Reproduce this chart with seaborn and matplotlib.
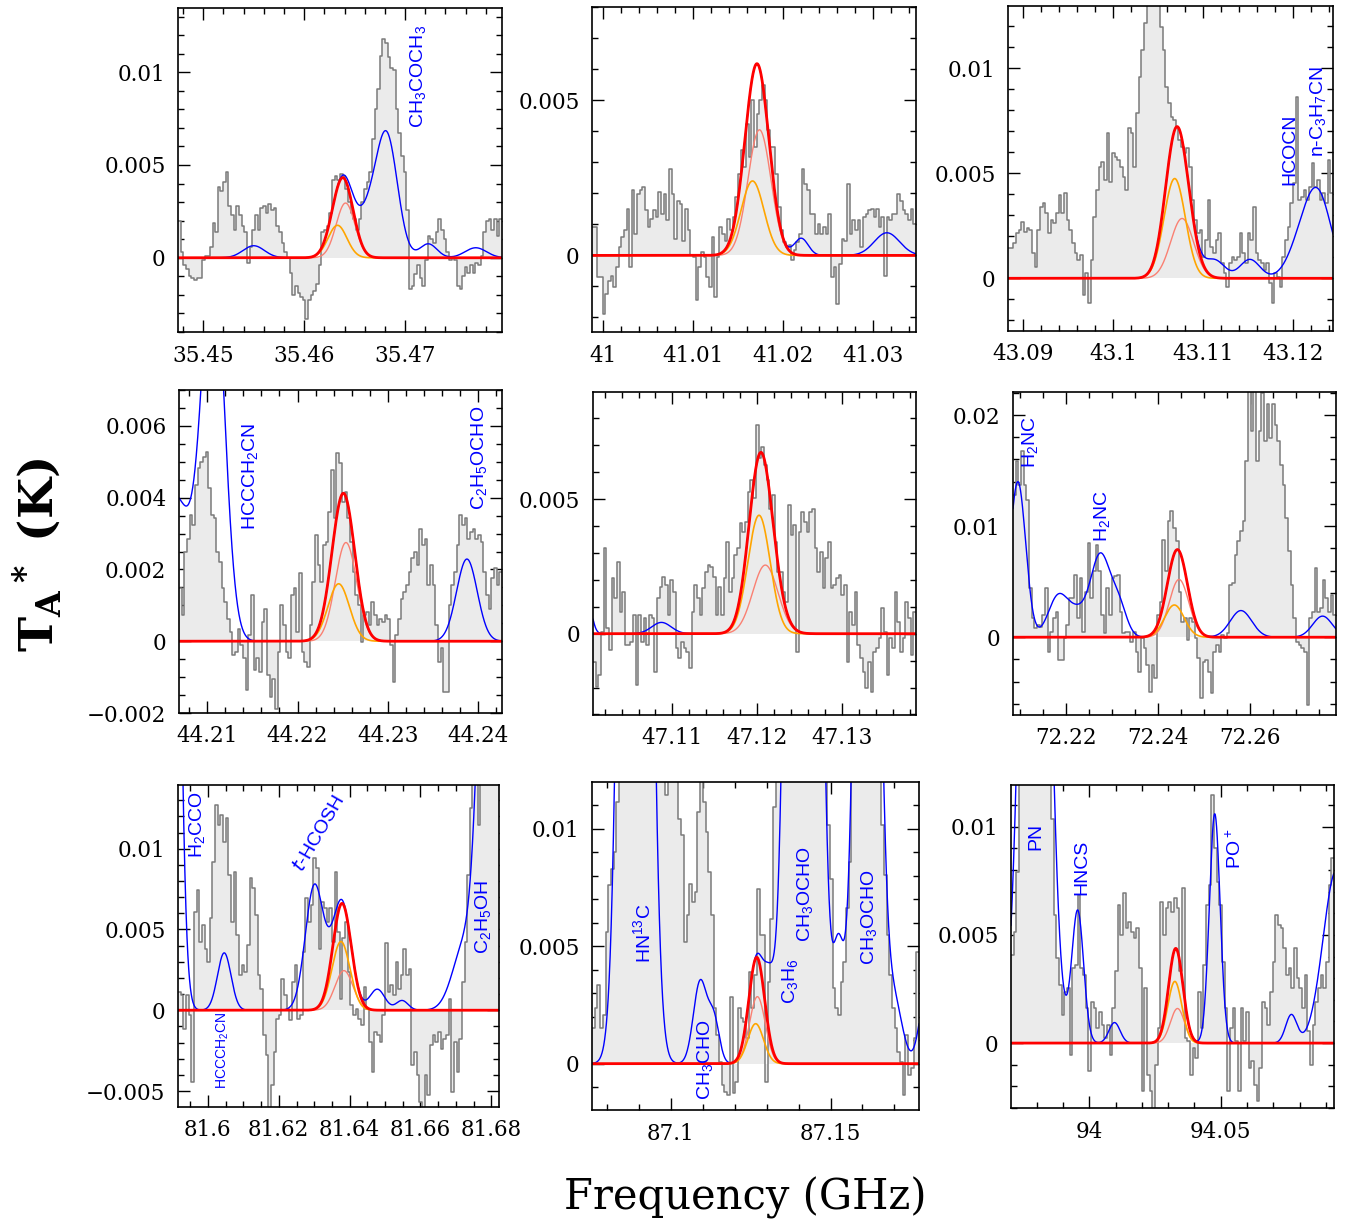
import numpy as np
import seaborn as sns
import matplotlib
matplotlib.use("Agg")
import matplotlib.pyplot as plt
from matplotlib.ticker import MultipleLocator, FuncFormatter

# --- spectra (mK), channels spread evenly over each plotted window (GHz) ---
p1_range = (35.4475, 35.4796)
p1_spec = [2.0, 0.3, -0.4, -0.6, -1.0, -1.1, -1.2, -1.1, -1.1, -0.1, 0.1, 0.1, 0.6, 1.9, 1.4, 3.8, 3.6, 4.1, 4.6, 2.8,
           2.3, 1.5, 2.8, 2.3, 1.7, 1.4, -0.3, 0.6, 1.5, 2.3, 1.5, 2.7, 2.8, 2.4, 2.9, 2.6, 2.7, 1.7, 1.4, 0.8,
           0.3, 0.0, -0.8, -2.0, -1.5, -1.9, -2.1, -2.3, -3.3, -2.3, -2.0, -1.8, -1.4, -0.4, 1.4, 1.5, 1.7, 2.4, 4.2, 4.4,
           4.2, 4.5, 4.4, 3.7, 3.0, 2.4, 2.1, 1.5, 2.1, 3.0, 3.7, 4.1, 4.6, 6.4, 8.0, 9.1, 10.9, 11.8, 11.6, 10.8,
           10.2, 10.1, 8.0, 6.7, 5.5, 4.6, 2.6, -1.7, -1.5, -0.9, -0.4, -1.1, -1.5, -0.1, 1.2, 1.0, 0.8, 1.4, 2.1, 1.5,
           1.0, 0.3, -0.1, 0.0, -0.1, -1.5, -1.7, -1.0, -0.5, -0.8, -0.4, -0.8, -0.3, -0.4, 0.1, 1.4, 2.0, 2.1, 1.5, 2.1,
           1.2, 2.1]
p2_range = (40.99878, 41.03473)
p2_spec = [0.91, 0.91, -0.70, -0.70, -1.88, -1.24, -0.81, -0.65, -1.02, -0.38, 0.27, 0.59, 0.81, 1.51, -0.38, 2.10, 0.70,
           1.99, 2.10, 2.20, 1.45, 0.91, 1.18, 1.45, 1.24, 2.04, 1.34, 1.99, 1.13, 2.80, 1.99, 0.54, 1.77, 1.67, 0.48,
           1.51, 0.81, 0.0, -0.05, -1.45, -0.38, 0.11, -0.05, -0.70, -1.02, 0.59, -1.34, -0.05, 0.91, 0.70, 0.48, 1.18,
           0.81, 1.24, 1.88, 2.63, 3.39, 2.85, 4.25, 3.17, 5.0, 3.49, 4.57, 5.0, 5.48, 5.0, 4.03, 3.49, 3.49, 2.63,
           1.56, 0.81, 0.43, 0.27, 0.32, -0.16, 0.16, 0.43, 0.70, 2.80, 2.31, 2.10, 1.34, 1.34, 0.70, 1.02, 0.70, 0.91,
           0.70, 1.34, -0.70, -0.38, -1.56, -0.27, 0.54, 0.48, 2.31, 0.70, 1.13, 0.81, 1.13, 0.27, 1.24, 1.34, 1.45,
           1.51, 1.24, 1.51, 0.91, 1.24, -0.65, 1.24, 1.13, 1.34, 1.34, 1.99, 1.77, 1.45, 1.34, 1.13, 1.51, 1.02]
p3_range = (43.08834, 43.12443)
p3_spec = [1.43, 1.43, 1.67, 2.14, 2.30, 2.70, 2.22, 2.38, 2.30, 1.19, 0.56, 2.30, 3.41, 3.57, 3.09, 2.14, 2.78, 2.62,
           3.09, 3.97, 3.09, 4.05, 2.78, 2.30, 1.67, 1.19, 0.87, 1.11, -0.79, 0.24, -1.19, 0.87, 2.94, 4.21, 5.32, 5.55,
           4.68, 6.90, 4.60, 5.95, 5.79, 5.63, 5.32, 4.84, 4.21, 7.14, 6.90, 5.32, 7.86, 9.60, 10.87, 12.14, 14.0, 14.5,
           15.0, 14.2, 13.6, 11.98, 10.87, 9.13, 8.33, 7.70, 7.54, 7.22, 6.59, 6.27, 5.95, 6.19, 5.32, 3.73, 2.78, 2.14,
           2.30, 1.03, 1.83, 3.73, 1.51, 1.19, 1.83, 2.14, 0.71, 0.24, -0.40, 0.71, 1.03, 0.87, 1.03, 2.14, 1.19, 0.71,
           2.14, 1.83, 3.41, 1.19, 0.87, 0.71, 0.40, 0.71, -0.24, -1.19, 0.24, 0.08, -0.40, 1.03, 1.83, 2.46, 3.57,
           4.52, 8.65, 3.73, 3.89, 4.21, 3.73, 4.36, 5.48, 4.36, 4.68, 3.73, 4.05, 3.57, 5.63, 4.05]
p4_range = (44.20686, 44.24267)
p4_spec = [1.47, 0.73, 2.49, 2.86, 3.52, 3.24, 4.35, 4.82, 5.00, 5.14, 5.28, 4.26, 3.52, 3.42, 2.49, 2.21, 1.47, 1.09,
           0.63, 0.26, -0.39, -0.30, 0.35, -0.11, -0.48, -1.37, 0.17, 1.28, -0.81, -0.48, -0.86, 0.54, 0.91, -0.95,
           -1.55, -1.04, -1.88, -0.30, 1.00, 0.45, -0.30, -0.48, 1.28, 1.47, 0.26, 1.89, -0.30, -0.58, -0.72, 0.45,
           1.66, 2.96, 2.12, 1.66, 2.68, 2.77, 3.61, 4.77, 3.42, 5.24, 4.96, 3.89, 4.17, 3.42, 2.77, 1.93, 1.28, 1.00,
           -0.02, 0.73, 0.82, 0.45, 1.10, 0.73, 0.45, 0.63, 0.54, 0.73, 0.63, -0.11, -1.13, 0.17, 0.63, 1.19, 1.38,
           1.56, 1.93, 2.31, 2.49, 2.12, 3.14, 2.68, 2.86, 1.56, 2.12, 1.56, 0.45, -0.58, -0.20, -1.41, -1.41, 1.00,
           1.56, 1.93, 2.68, 3.52, 3.24, 3.42, 2.86, 3.05, 3.14, 2.86, 2.96, 2.77, 1.93, 1.28, 0.91, 1.75, 2.03, 1.56,
           1.93]
p5_range = (47.10064, 47.13869)
p5_spec = [-1.04, -1.97, -1.54, 0.07, 3.17, 0.20, -0.61, 2.06, 1.31, 2.67, 0.82, 1.56, -0.42, -0.42, -0.30, 0.69, -1.91,
           0.69, -0.30, 0.57, -0.42, 0.69, 0.57, -1.41, 1.31, 1.75, 2.12, 1.81, 0.69, 1.99, 1.56, -0.54, -0.92, -0.30,
           -0.54, -0.67, -1.29, 0.82, 1.81, 1.31, 0.69, 1.68, 2.30, 2.55, 2.49, 2.12, 0.69, 1.75, 0.69, 2.06, 3.42, 1.56,
           2.06, 2.92, 3.17, 4.10, 3.79, 4.16, 5.27, 5.71, 5.03, 7.75, 6.51, 6.95, 6.26, 5.71, 4.65, 5.15, 3.42, 2.30,
           2.30, 1.56, 1.19, 4.78, 3.66, 4.04, -0.67, 3.79, 4.53, 4.16, 3.79, 4.53, 4.65, 3.17, 2.30, 3.05, 1.68, 2.80,
           3.42, 1.68, 1.81, 2.06, 2.18, 1.44, 1.81, -1.04, 0.82, 0.32, 1.56, -0.42, -0.92, -1.41, -2.03, -1.04, -2.15,
           -0.67, -0.54, -0.17, 0.94, 0.07, -1.54, -0.17, -0.54, 1.56, 0.45, -0.67, -0.17, 1.19, 0.57, -0.79, 0.82]
p6_range = (72.20855, 72.27862)
p6_spec = [12.82, 15.83, 13.72, 16.73, 13.72, 12.37, 4.41, 1.71, 0.81, 1.11, 0.96, 2.01, 4.41, -1.29, 0.51, 1.71, 2.31,
           -2.04, -2.04, -0.09, 1.11, 3.51, 3.51, 5.62, 1.71, 5.32, 0.51, 4.11, 8.47, 3.51, 5.92, 8.32, 5.92, 2.01, 0.36,
           4.41, 2.01, 5.32, 5.47, 5.62, 2.31, 0.36, 0.51, 0.51, -0.39, 0.51, -1.29, -3.09, -0.09, -0.99, -2.49, -4.89,
           -2.49, -3.69, 2.01, 3.21, 8.77, 5.92, 10.42, 11.32, 9.82, 8.62, 4.11, 1.41, 1.71, -0.24, 1.71, 1.41, -0.09,
           -1.89, -5.50, -2.19, -2.04, -3.09, -5.05, -1.29, -0.69, -1.29, 0.21, -0.09, 0.36, 4.71, 4.86, 7.42, 8.62,
           9.52, 10.42, 15.83, 23.0, 18.53, 23.0, 15.83, 18.53, 22.0, 17.63, 21.0, 17.93, 21.0, 19.13, 17.63, 15.53,
           13.72, 10.72, 7.72, 4.71, 1.71, -0.39, -0.69, -0.99, -1.29, -6.10, 1.71, 2.31, 6.22, 2.31, 2.61, 5.17, 3.51,
           2.31, 3.81, 2.01]
p7_range = (81.59155, 81.68216)
p7_spec = [1.14, 0.93, -1.14, 0.93, -0.31, -4.44, 6.09, 7.44, 4.24, 5.27, 3.82, 2.99, 5.68, 9.19, 12.71, 11.47, 12.09,
           10.43, 11.88, 8.37, 5.47, 8.57, 4.65, 2.17, 2.79, 2.38, 4.03, 8.16, 7.54, 5.89, 2.17, 1.34, -1.55, -2.79, -6.5,
           -4.65, -2.58, -0.52, -0.31, 1.96, 0.93, 0.10, -0.62, 1.76, 2.79, -0.52, -0.31, 3.62, 6.92, 5.47, 6.51, 9.40,
           8.78, 3.82, 6.71, 6.30, 5.47, 6.30, 4.24, 8.57, 4.86, 0.72, 4.44, 5.47, 2.38, 0.31, -0.31, 0.10, -0.52,
           -0.93, 1.45, 0.10, -1.96, -3.82, -1.34, -1.55, -1.96, -0.31, 4.13, 1.14, 1.55, 0.93, 3.00, 1.34, 2.17, 3.82,
           2.17, 2.58, -3.41, -2.58, -4.03, -5.68, -6.5, -4.03, -5.27, -2.17, -1.55, -1.96, -1.34, -2.38, -1.76, -1.55,
           0.72, -5.06, -1.96, -3.82, -1.76, 1.76, 4.24, 8.37, 12.5, 15.0, 15.0, 11.47, 15.0, 16.0, 16.0, 15.0, 15.0,
           15.0, 15.0]
p8_range = (87.07531, 87.17771)
p8_spec = [1.50, 2.35, 3.34, 1.50, 2.07, 5.61, 7.59, 8.30, 9.01, 11.13, 13.5, 15.0, 17.0, 19.0, 21.0, 23.0, 25.0, 26.0,
           25.0, 24.0, 22.0, 20.0, 19.0, 18.0, 17.0, 15.0, 14.0, 11.41, 13.0, 14.0, 13.5, 12.5, 10.42, 9.71, 5.18, 6.32,
           7.66, 6.88, 7.31, 10.70, 13.0, 11.13, 9.86, 8.16, 6.32, 2.35, 1.22, 0.08, -0.91, -1.19, -1.33, 2.85, -1.26,
           -0.76, 2.35, 1.93, 1.78, 1.08, 3.91, 2.35, 3.77, 7.45, 5.47, 5.47, -0.76, 3.48, 6.17, 10.92, 13.0, 15.0, 17.0,
           20.0, 23.0, 26.0, 28.0, 30.0, 31.0, 31.0, 30.0, 28.0, 26.0, 24.0, 22.0, 20.0, 18.0, 15.0, 13.0, 10.14, 7.87,
           3.20, 2.35, 2.07, 3.48, 4.33, 6.60, 8.58, 13.0, 16.0, 19.0, 22.0, 25.0, 26.0, 25.0, 22.0, 19.0, 16.0, 13.0,
           10.14, 8.01, 5.47, 3.77, 2.35, 1.50, 0.51, 0.08, -1.33, 1.22, -0.48, -0.20, 1.08, 4.76]
p9_range = (93.97025, 94.09304)
p9_spec = [4.08, 5.15, 7.92, 14.0, 16.0, 18.0, 20.0, 22.0, 22.0, 20.0, 19.0, 18.0, 17.0, 16.0, 14.0, 10.38, 5.92, 3.92,
           2.69, 1.31, 2.38, 2.54, -0.54, 3.46, 3.61, 6.84, 3.46, 3.15, 1.61, -1.31, 1.92, 1.61, 0.69, 1.46, 0.85, 0.23,
           0.85, -0.54, 1.61, 3.31, 6.38, 5.00, 6.92, 5.31, 5.61, 5.15, 4.84, 5.31, 3.46, -2.23, 2.54, -1.46, -2.23,
           -3.2, -1.00, 0.69, 6.54, 5.00, 6.23, 6.54, 6.07, 6.69, 6.23, 3.31, 7.15, 0.23, 0.08, -1.46, -0.23, -0.69,
           2.38, 0.69, 3.61, 6.38, 7.31, 11.46, 9.00, 7.46, 6.38, 3.77, 1.61, -2.23, 0.69, 1.61, 0.08, -2.23, 1.61, 0.08,
           1.46, -1.15, -0.85, -1.92, -2.69, -1.15, 1.92, 1.61, 0.85, 2.38, 3.77, 5.92, 5.46, 5.31, 4.38, 3.15, 3.46,
           2.54, 4.38, 3.00, 2.54, 1.61, 3.15, 0.54, -1.00, 0.85, 1.92, 2.54, 3.15, 2.54, 3.77, 7.31, 8.54]

# --- gaussian components: (centre GHz, peak mK, FWHM GHz) ---
# fit = [orange, salmon]; red is their sum; blue adds the other lines
p1_fit = [(35.4633, 1.75, 0.0022), (35.4641, 2.95, 0.0022)]
p1_other = [(35.4550, 0.65, 0.0025), (35.4663, 2.0, 0.0025), (35.4682, 6.4, 0.0025),
            (35.4723, 0.75, 0.0020), (35.4770, 0.54, 0.0025)]
p2_fit = [(41.01659, 2.4, 0.0030), (41.01736, 4.05, 0.0030)]
p2_other = [(41.0220, 0.55, 0.0018), (41.0315, 0.73, 0.0033)]
p3_fit = [(43.10685, 4.75, 0.0028), (43.10767, 2.85, 0.0030)]
p3_other = [(43.1113, 0.85, 0.0026), (43.1152, 0.9, 0.0026), (43.1210, 1.6, 0.0035), (43.1229, 3.5, 0.0034)]
p4_fit = [(44.22456, 1.6, 0.0028), (44.22537, 2.75, 0.0028)]
p4_other = [(44.2062, 4.1, 0.005), (44.21067, 10.5, 0.0029), (44.23878, 2.29, 0.0027)]
p5_fit = [(47.1202, 4.4, 0.0031), (47.12094, 2.55, 0.0035)]
p5_other = [(47.1000, 1.2, 0.0012), (47.1087, 0.42, 0.0027)]
p6_fit = [(72.24355, 2.9, 0.005), (72.24457, 5.2, 0.005)]
p6_other = [(72.2096, 14.0, 0.004), (72.2183, 3.6, 0.005), (72.2225, 2.0, 0.005), (72.2275, 7.3, 0.005),
            (72.2315, 2.7, 0.004), (72.2580, 2.4, 0.0055), (72.2757, 1.9, 0.005)]
p7_fit = [(81.63755, 4.25, 0.006), (81.6384, 2.45, 0.006)]
p7_other = [(81.589, 80.0, 0.005), (81.6046, 3.55, 0.0045), (81.6300, 7.6, 0.006), (81.6340, 0.8, 0.005),
            (81.6478, 1.3, 0.005), (81.6548, 0.6, 0.004), (81.6725, 4.0, 0.008), (81.679, 30.0, 0.006)]
p8_fit = [(87.12656, 1.7, 0.0058), (87.1271, 2.85, 0.0058)]
p8_other = [(87.0889, 100.0, 0.0075), (87.1092, 3.5, 0.005), (87.1135, 1.8, 0.004), (87.1310, 2.3, 0.004),
            (87.1415, 100.0, 0.008), (87.1525, 4.5, 0.004), (87.1615, 50.0, 0.007), (87.1700, 2.5, 0.006),
            (87.1800, 3.0, 0.005)]
p9_fit = [(94.03253, 2.85, 0.0063), (94.03354, 1.6, 0.0063)]
p9_other = [(93.9794, 46.5, 0.0104), (93.9956, 6.1, 0.0053), (94.0096, 0.95, 0.005), (94.0477, 10.6, 0.0048),
            (94.0768, 1.3, 0.005), (94.0940, 8.0, 0.012)]

# --- species labels: (text, GHz, mK) ---
p1_labels = [("CH$_3$COCH$_3$", 35.47126, 7.0)]
p3_labels = [("HCOCN", 43.11963, 4.44), ("n-C$_3$H$_7$CN", 43.12277, 5.79)]
p4_labels = [("HCCCH$_2$CN", 44.21474, 3.1), ("C$_2$H$_5$OCHO", 44.24008, 3.65)]
p6_labels = [("H$_2$NC", 72.21217, 15.2), ("H$_2$NC", 72.22775, 8.6)]
p7_labels = [("H$_2$CCO", 81.59689, 9.4), ("C$_2$H$_5$OH", 81.67755, 3.51)]
p8_labels = [("HN$^{13}$C", 87.09125, 4.27), ("CH$_3$CHO", 87.11073, -1.54), ("C$_3$H$_6$", 87.13729, 2.52),
             ("CH$_3$OCHO", 87.14198, 5.18), ("CH$_3$OCHO", 87.16208, 4.19)]
p9_labels = [("PN", 93.97975, 8.92), ("HNCS", 93.99709, 6.85), ("PO$^+$", 94.05532, 8.03)]

panels = [
    dict(rng=p1_range, spec=p1_spec, fit=p1_fit, other=p1_other, lab=p1_labels,
         ylim=(-0.004, 0.01346), xt=(0.01, 0.002), yt=(0.005, 0.001), box=(178, 8, 502, 332)),
    dict(rng=p2_range, spec=p2_spec, fit=p2_fit, other=p2_other, lab=[],
         ylim=(-0.00247, 0.00801), xt=(0.01, 0.002), yt=(0.005, 0.001), box=(592, 7, 916, 332)),
    dict(rng=p3_range, spec=p3_spec, fit=p3_fit, other=p3_other, lab=p3_labels,
         ylim=(-0.00251, 0.01297), xt=(0.01, 0.002), yt=(0.005, 0.001), box=(1008, 6, 1333, 331)),
    dict(rng=p4_range, spec=p4_spec, fit=p4_fit, other=p4_other, lab=p4_labels,
         ylim=(-0.002, 0.0070), xt=(0.01, 0.002), yt=(0.002, 0.0005), box=(179, 390, 502, 713)),
    dict(rng=p5_range, spec=p5_spec, fit=p5_fit, other=p5_other, lab=[],
         ylim=(-0.00302, 0.00898), xt=(0.01, 0.002), yt=(0.005, 0.001), box=(593, 392, 916, 715)),
    dict(rng=p6_range, spec=p6_spec, fit=p6_fit, other=p6_other, lab=p6_labels,
         ylim=(-0.0070, 0.02207), xt=(0.02, 0.005), yt=(0.01, 0.002), box=(1013, 392, 1336, 715)),
    dict(rng=p7_range, spec=p7_spec, fit=p7_fit, other=p7_other, lab=p7_labels,
         ylim=(-0.00599, 0.01394), xt=(0.02, 0.005), yt=(0.005, 0.001), box=(178, 785, 499, 1107)),
    dict(rng=p8_range, spec=p8_spec, fit=p8_fit, other=p8_other, lab=p8_labels,
         ylim=(-0.00197, 0.01198), xt=(0.05, 0.01), yt=(0.005, 0.001), box=(592, 782, 919, 1110)),
    dict(rng=p9_range, spec=p9_spec, fit=p9_fit, other=p9_other, lab=p9_labels,
         ylim=(-0.0030, 0.01193), xt=(0.05, 0.01), yt=(0.005, 0.001), box=(1011, 785, 1334, 1108)),
]

sns.set_theme(style="ticks")
plt.rcParams["font.family"] = ["DejaVu Serif"]
plt.rcParams["mathtext.default"] = "regular"
for k in ("text.color", "axes.labelcolor", "xtick.color", "ytick.color"):
    plt.rcParams[k] = "black"

W, H = 1350, 1228
fig = plt.figure(figsize=(W / 100, H / 100), dpi=100)


def gauss(x, comps):
    y = np.zeros_like(x)
    for c, a, w in comps:
        y += a * np.exp(-4 * np.log(2) * (x - c) ** 2 / w ** 2)
    return y * 1e-3


def tick_fmt(v, pos):
    s = f"{v:.6f}".rstrip("0").rstrip(".")
    if s in ("-0", ""):
        s = "0"
    return s.replace("-", "\u2212")


for p in panels:
    l, t, r, b = p["box"]
    ax = fig.add_axes([l / W, 1 - b / H, (r - l) / W, (b - t) / H])
    lo, hi = p["rng"]
    spec = np.array(p["spec"]) * 1e-3
    edges = np.linspace(lo, hi, len(spec) + 1)
    ys = np.append(spec, spec[-1])
    ax.fill_between(edges, ys, 0, step="post", color="#ebebeb", lw=0)
    sns.lineplot(x=edges, y=ys, ax=ax, drawstyle="steps-post", color="#7a7a7a",
                 lw=1.1, estimator=None, sort=False)

    xx = np.linspace(lo, hi, 1500)
    orange = gauss(xx, [p["fit"][0]])
    salmon = gauss(xx, [p["fit"][1]])
    red = orange + salmon
    blue = red + gauss(xx, p["other"])
    sns.lineplot(x=xx, y=blue, ax=ax, color="#0000ff", lw=1.0, estimator=None, sort=False)
    sns.lineplot(x=xx, y=salmon, ax=ax, color="#fa8072", lw=1.0, estimator=None, sort=False)
    sns.lineplot(x=xx, y=orange, ax=ax, color="#ffa500", lw=1.2, estimator=None, sort=False)
    sns.lineplot(x=xx, y=red, ax=ax, color="#ff0000", lw=2.0, estimator=None, sort=False)

    ax.set_xlim(lo, hi)
    ax.set_ylim(*p["ylim"])
    ax.xaxis.set_major_locator(MultipleLocator(p["xt"][0]))
    ax.xaxis.set_minor_locator(MultipleLocator(p["xt"][1]))
    ax.yaxis.set_major_locator(MultipleLocator(p["yt"][0]))
    ax.yaxis.set_minor_locator(MultipleLocator(p["yt"][1]))
    ax.xaxis.set_major_formatter(FuncFormatter(tick_fmt))
    ax.yaxis.set_major_formatter(FuncFormatter(tick_fmt))
    ax.tick_params(which="both", direction="in", top=True, right=True, color="black", width=1.0)
    ax.tick_params(which="major", length=8.5, labelsize=15.5, pad=9)
    ax.tick_params(which="minor", length=4.5)
    for s in ax.spines.values():
        s.set_linewidth(1.2)
        s.set_color("black")
    ax.set_xlabel("")
    ax.set_ylabel("")

    for txt, x, y in p["lab"]:
        ax.text(x, y * 1e-3, txt, rotation=90, ha="center", va="bottom", color="#0000ff",
                fontsize=14, family="Liberation Sans")
    if p["rng"] == p7_range:
        ax.text(81.60425, -0.00485, "HCCCH$_2$CN", rotation=90, ha="center", va="bottom",
                color="#0000ff", fontsize=10, family="Liberation Sans")
        ax.text(81.63132, 0.01095, "$\\mathit{t}$-HCOSH", rotation=60, ha="center", va="center",
                color="#0000ff", fontsize=14, family="Liberation Sans")

fig.text(37 / W, 1 - 555 / H, "T$_A$$^*$ (K)", rotation=90, ha="center", va="center",
         fontsize=34, fontweight="bold", family="DejaVu Serif")
fig.text(745 / W, 1 - 1198 / H, "Frequency (GHz)", ha="center", va="center",
         fontsize=30, family="DejaVu Serif")

fig.savefig("out.png", dpi=100)
